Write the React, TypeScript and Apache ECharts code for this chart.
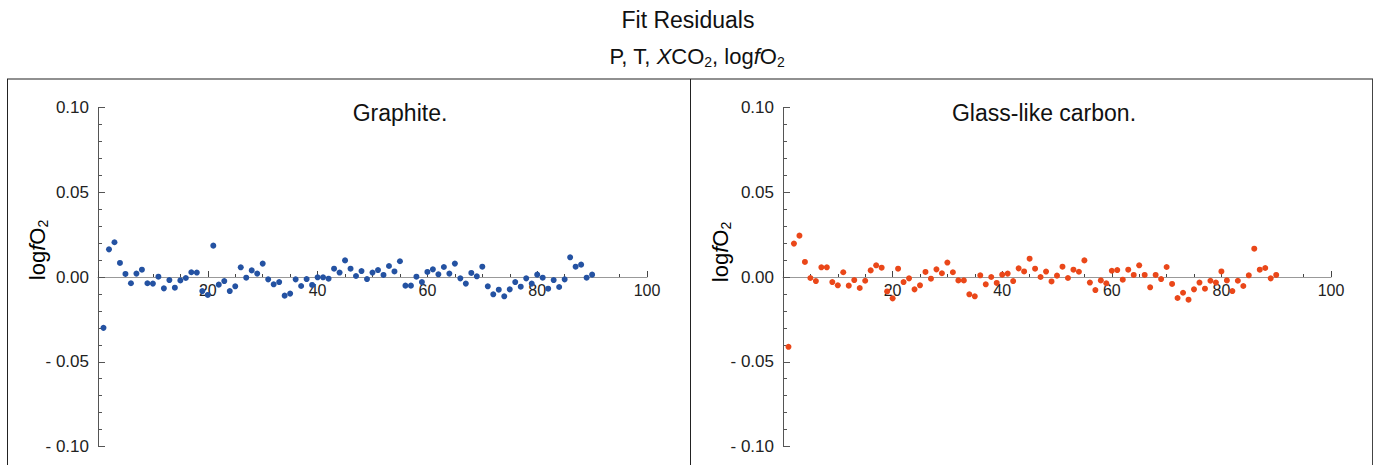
import React, { useEffect, useRef } from "react";
import * as echarts from "echarts";

const runIndex = [
  1, 2, 3, 4, 5, 6, 7, 8, 9, 10, 11, 12, 13, 14, 15, 16, 17, 18, 19, 20,
  21, 22, 23, 24, 25, 26, 27, 28, 29, 30, 31, 32, 33, 34, 35, 36, 37, 38, 39, 40,
  41, 42, 43, 44, 45, 46, 47, 48, 49, 50, 51, 52, 53, 54, 55, 56, 57, 58, 59, 60,
  61, 62, 63, 64, 65, 66, 67, 68, 69, 70, 71, 72, 73, 74, 75, 76, 77, 78, 79, 80,
  81, 82, 83, 84, 85, 86, 87, 88, 89, 90,
];

const graphiteResiduals = [
  -0.03, 0.0163, 0.0205, 0.0083, 0.0018, -0.0037, 0.002, 0.0043, -0.0037, -0.0039,
  0.0002, -0.0067, -0.0018, -0.0063, -0.002, -0.0006, 0.0028, 0.0026, -0.0083, -0.0106,
  0.0185, -0.0045, -0.0024, -0.0083, -0.0055, 0.0057, -0.0004, 0.0039, 0.002, 0.0079,
  -0.0014, -0.0043, -0.003, -0.011, -0.0098, -0.0014, -0.0053, -0.0012, -0.0047, -0.0002,
  -0.0002, -0.001, 0.0049, 0.0026, 0.0098, 0.0049, 0.0006, 0.0035, -0.0012, 0.0026,
  0.0041, 0.0012, 0.0065, 0.0033, 0.0093, -0.0051, -0.0051, 0.0002, -0.003, 0.003,
  0.0045, 0.0016, 0.0059, 0.002, 0.0079, -0.0008, -0.0039, 0.0024, 0.0004, 0.0061,
  -0.0055, -0.0102, -0.0075, -0.0114, -0.0073, -0.003, -0.0057, -0.0008, -0.0039, 0.0014,
  -0.0004, -0.0069, -0.0018, -0.0059, -0.0014, 0.0116, 0.0061, 0.0073, -0.0004, 0.0014,
];

const glassCarbonResiduals = [
  -0.0412, 0.0197, 0.0244, 0.0089, -0.0006, -0.0024, 0.0057, 0.0057, -0.003, -0.0049,
  0.0028, -0.0051, -0.0018, -0.0065, -0.0022, 0.0039, 0.0069, 0.0055, -0.0085, -0.0126,
  0.0049, -0.003, -0.0008, -0.0073, -0.0049, 0.003, -0.001, 0.0045, 0.0022, 0.0085,
  0.0028, -0.002, -0.002, -0.0102, -0.0114, 0.001, -0.0043, 0.0, -0.0035, 0.0014,
  0.002, -0.0024, 0.0051, 0.0033, 0.0108, 0.0049, 0.0, 0.0032, -0.0026, 0.0008,
  0.0061, -0.0006, 0.0043, 0.0031, 0.0098, -0.0033, -0.0077, -0.002, -0.0037, 0.0037,
  0.0041, -0.0016, 0.0043, 0.0012, 0.0069, 0.0012, -0.0061, 0.0012, -0.0012, 0.0059,
  -0.0041, -0.0124, -0.0093, -0.0134, -0.0073, -0.0033, -0.0069, -0.0022, -0.0033, 0.0033,
  -0.002, -0.0083, -0.0022, -0.0053, 0.001, 0.0167, 0.0043, 0.0053, -0.0008, 0.0012,
];

const panelLabels = ["Graphite.", "Glass-like carbon."];
const yTickLabels: Record<string, string> = {
  "0.1": "0.10",
  "0.05": "0.05",
  "0": "0.00",
  "-0.05": "- 0.05",
  "-0.1": "- 0.10",
};

const FONT = "'Liberation Sans', Arial, Helvetica, sans-serif";
const GRID_H = 339;

export default function App() {
  const ref = useRef<HTMLDivElement>(null);

  useEffect(() => {
    if (!ref.current) return;
    const chart = echarts.init(ref.current, undefined, { renderer: "svg" });

    const grids = [
      { left: 98, top: 107.5, width: 549, height: GRID_H },
      { left: 783, top: 107.5, width: 548, height: GRID_H },
    ];

    const mkX = (gi: number) => ({
      type: "value",
      gridIndex: gi,
      min: 0,
      max: 100,
      interval: 20,
      position: "bottom",
      offset: -GRID_H / 2,
      axisLine: { onZero: false, lineStyle: { color: "#999999", width: 1.2 } },
      axisTick: { inside: true, length: 6, lineStyle: { color: "#444444" } },
      minorTick: { show: true, splitNumber: 4, length: 3, lineStyle: { color: "#444444" } },
      splitLine: { show: false },
      axisLabel: {
        margin: 5,
        fontSize: 16,
        color: "#222222",
        fontFamily: FONT,
        formatter: (v: number) => (v === 0 ? "" : String(v)),
      },
    });

    const mkY = (gi: number) => ({
      type: "value",
      gridIndex: gi,
      min: -0.1,
      max: 0.1,
      interval: 0.05,
      axisLine: { show: true, onZero: false, lineStyle: { color: "#555555", width: 1 } },
      axisTick: { show: true, inside: true, length: 7, lineStyle: { color: "#555555" } },
      minorTick: { show: true, splitNumber: 5, length: 4, lineStyle: { color: "#555555" } },
      splitLine: { show: false },
      axisLabel: {
        margin: 9,
        fontSize: 17,
        color: "#222222",
        fontFamily: FONT,
        formatter: (v: number) => {
          const k = String(Math.round(v * 100) / 100);
          return yTickLabels[k] ?? k;
        },
      },
    });

    const pair = (ys: number[]) => runIndex.map((x, i) => [x, ys[i]]);

    const nameRich = {
      n: { fontSize: 22, fontFamily: FONT, color: "#111111" },
      i: { fontSize: 22, fontFamily: FONT, fontStyle: "italic", color: "#111111" },
      s: { fontSize: 14, fontFamily: FONT, color: "#111111", padding: [12, 0, 0, 0] },
    };

    const option: any = {
      animation: false,
      backgroundColor: "#ffffff",
      grid: grids,
      xAxis: [mkX(0), mkX(1)],
      yAxis: [mkY(0), mkY(1)],
      series: [
        {
          type: "scatter",
          xAxisIndex: 0,
          yAxisIndex: 0,
          data: pair(graphiteResiduals),
          symbolSize: 6,
          itemStyle: { color: "#2452a2", opacity: 1 },
        },
        {
          type: "scatter",
          xAxisIndex: 1,
          yAxisIndex: 1,
          data: pair(glassCarbonResiduals),
          symbolSize: 6,
          itemStyle: { color: "#ea4719", opacity: 1 },
        },
      ],
      graphic: [
        {
          type: "text",
          x: 688,
          y: 20,
          style: {
            text: "Fit Residuals",
            fontSize: 23,
            fontFamily: FONT,
            fill: "#111111",
            align: "center",
            verticalAlign: "middle",
          },
        },
        {
          type: "text",
          x: 697,
          y: 56,
          style: {
            text: "{n|P, T, }{i|X}{n|CO}{s|2}{n|, log}{i|f}{n|O}{s|2}",
            rich: {
              n: { fontSize: 22, fontFamily: FONT, fill: "#111111" },
              i: { fontSize: 22, fontFamily: FONT, fontStyle: "italic", fill: "#111111" },
              s: { fontSize: 14, fontFamily: FONT, fill: "#111111", padding: [12, 0, 0, 0] },
            },
            align: "center",
            verticalAlign: "middle",
          },
        },
        {
          type: "line",
          shape: { x1: 7, y1: 79, x2: 1373, y2: 79 },
          style: { stroke: "#222222", lineWidth: 1.2 },
        },
        {
          type: "line",
          shape: { x1: 7.5, y1: 79, x2: 7.5, y2: 465 },
          style: { stroke: "#222222", lineWidth: 1 },
        },
        {
          type: "line",
          shape: { x1: 690.5, y1: 79, x2: 690.5, y2: 465 },
          style: { stroke: "#222222", lineWidth: 1 },
        },
        {
          type: "line",
          shape: { x1: 1372.5, y1: 79, x2: 1372.5, y2: 465 },
          style: { stroke: "#444444", lineWidth: 1 },
        },
        {
          type: "text",
          x: 400,
          y: 113,
          style: {
            text: panelLabels[0],
            fontSize: 23,
            fontFamily: FONT,
            fill: "#111111",
            align: "center",
            verticalAlign: "middle",
          },
        },
        {
          type: "text",
          x: 1044,
          y: 113,
          style: {
            text: panelLabels[1],
            fontSize: 23,
            fontFamily: FONT,
            fill: "#111111",
            align: "center",
            verticalAlign: "middle",
          },
        },
        {
          type: "text",
          x: 37,
          y: 250,
          rotation: Math.PI / 2,
          style: {
            text: "{n|log}{i|f}{n|O}{s|2}",
            rich: nameRich,
            align: "center",
            verticalAlign: "middle",
          },
        },
        {
          type: "text",
          x: 720,
          y: 252,
          rotation: Math.PI / 2,
          style: {
            text: "{n|log}{i|f}{n|O}{s|2}",
            rich: nameRich,
            align: "center",
            verticalAlign: "middle",
          },
        },
      ],
    };

    chart.setOption(option);
    return () => chart.dispose();
  }, []);

  return (
    <div
      ref={ref}
      style={{ position: "fixed", left: 0, top: 0, width: 1379, height: 465, background: "#fff" }}
    />
  );
}
